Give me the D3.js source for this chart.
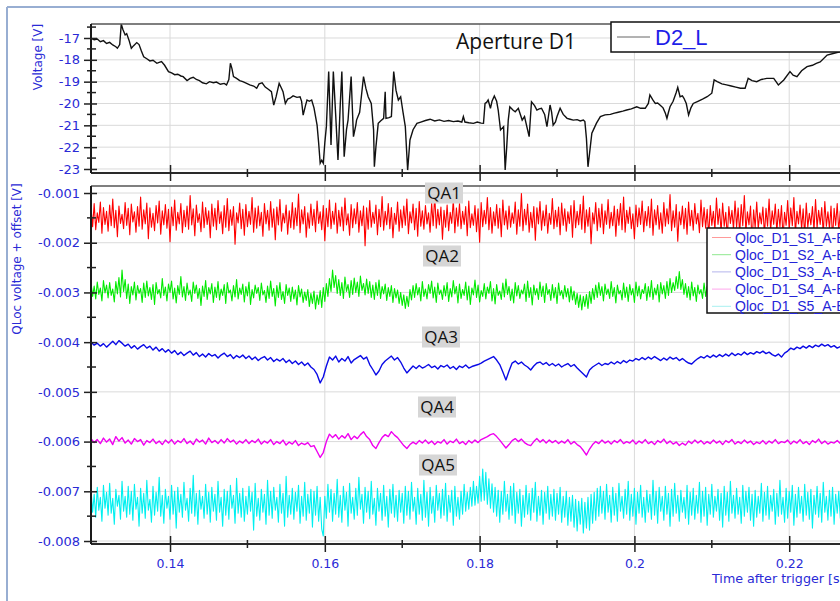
<!DOCTYPE html>
<html>
<head>
<meta charset="utf-8">
<script src="https://cdn.jsdelivr.net/npm/d3@7"></script>
<style>
html, body { margin: 0; padding: 0; background: #fff; overflow: hidden; }
svg { display: block; }
</style>
</head>
<body>
<svg id="chart"></svg>
<script>
// ---- data ----
// top panel: aperture voltage D2_L, [time s, voltage V]
const d2L = [[0.1297,-17.00],[0.1302,-17.08],[0.1306,-17.05],[0.1310,-17.17],[0.1314,-17.12],[0.1318,-17.25],[0.1322,-17.20],[0.1326,-17.32],[0.1330,-17.40],[0.1332,-17.47],
[0.1335,-17.30],[0.1337,-16.36],[0.1339,-16.60],[0.1342,-16.86],[0.1344,-16.80],[0.1347,-17.10],[0.1350,-17.47],[0.1353,-17.35],[0.1357,-17.21],[0.1360,-17.30],
[0.1363,-17.60],[0.1366,-17.86],[0.1370,-17.95],[0.1374,-18.05],[0.1378,-18.02],[0.1383,-18.16],[0.1386,-18.12],[0.1389,-18.08],[0.1393,-18.25],[0.1398,-18.54],
[0.1402,-18.60],[0.1406,-18.68],[0.1410,-18.66],[0.1414,-18.74],[0.1417,-18.77],[0.1422,-18.95],[0.1426,-18.85],[0.1430,-18.80],[0.1434,-18.90],[0.1438,-18.95],
[0.1442,-19.05],[0.1447,-19.10],[0.1451,-19.00],[0.1456,-19.05],[0.1460,-19.02],[0.1465,-19.12],[0.1470,-19.08],[0.1473,-19.15],[0.1476,-18.90],[0.1478,-18.16],
[0.1480,-18.40],[0.1482,-18.77],[0.1486,-18.85],[0.1490,-18.95],[0.1494,-19.00],[0.1499,-19.08],[0.1503,-19.15],[0.1508,-19.20],[0.1512,-19.30],[0.1515,-19.10],
[0.1519,-19.05],[0.1523,-19.25],[0.1527,-19.35],[0.1531,-19.46],[0.1534,-20.07],[0.1537,-19.70],[0.1541,-19.08],[0.1544,-19.30],[0.1546,-19.46],[0.1549,-20.00],
[0.1552,-19.80],[0.1555,-19.76],[0.1559,-19.65],[0.1564,-19.72],[0.1568,-19.69],[0.1570,-19.90],[0.1572,-20.53],[0.1575,-20.10],[0.1577,-19.84],[0.1580,-19.90],
[0.1583,-19.84],[0.1586,-20.20],[0.1590,-20.99],[0.1592,-21.80],[0.1594,-22.74],[0.1596,-22.60],[0.1598,-22.74],[0.1600,-21.80],[0.1602,-21.06],[0.1605,-18.54],
[0.1608,-21.90],[0.1611,-18.54],[0.1614,-20.50],[0.1617,-22.59],[0.1620,-20.00],[0.1622,-18.54],[0.1625,-22.44],[0.1628,-21.20],[0.1630,-20.76],[0.1634,-18.77],
[0.1637,-21.52],[0.1640,-21.00],[0.1641,-20.76],[0.1645,-20.40],[0.1650,-18.77],[0.1653,-19.30],[0.1656,-19.69],[0.1660,-20.00],[0.1663,-21.21],[0.1664,-22.90],
[0.1666,-22.00],[0.1669,-20.91],[0.1672,-20.80],[0.1676,-20.68],[0.1678,-19.46],[0.1679,-20.68],[0.1683,-20.65],[0.1686,-20.60],[0.1689,-18.54],[0.1692,-19.40],
[0.1695,-19.84],[0.1698,-19.69],[0.1701,-20.40],[0.1704,-21.06],[0.1707,-23.05],[0.1710,-21.67],[0.1714,-21.20],[0.1719,-20.91],[0.1724,-20.85],[0.1730,-20.78],
[0.1736,-20.72],[0.1742,-20.80],[0.1748,-20.75],[0.1754,-20.82],[0.1760,-20.78],[0.1766,-20.83],[0.1772,-20.80],[0.1777,-20.85],[0.1779,-20.60],[0.1781,-20.85],
[0.1786,-20.88],[0.1792,-20.91],[0.1797,-20.85],[0.1802,-20.90],[0.1805,-20.91],[0.1807,-20.00],[0.1809,-19.95],[0.1811,-19.84],[0.1814,-20.22],[0.1816,-19.90],
[0.1819,-19.66],[0.1822,-19.90],[0.1824,-20.30],[0.1827,-21.21],[0.1831,-21.06],[0.1833,-23.05],[0.1835,-22.00],[0.1837,-20.76],[0.1839,-20.15],[0.1843,-20.30],
[0.1846,-20.38],[0.1850,-20.22],[0.1855,-20.76],[0.1858,-20.60],[0.1861,-21.06],[0.1864,-21.52],[0.1867,-19.92],[0.1871,-20.10],[0.1874,-20.30],[0.1877,-20.25],
[0.1880,-20.22],[0.1884,-20.50],[0.1887,-21.06],[0.1891,-20.07],[0.1893,-20.40],[0.1895,-20.99],[0.1898,-20.85],[0.1900,-20.60],[0.1904,-20.22],[0.1908,-20.50],
[0.1913,-20.68],[0.1917,-20.72],[0.1921,-20.76],[0.1926,-20.74],[0.1930,-20.80],[0.1934,-20.76],[0.1936,-20.83],[0.1938,-21.60],[0.1940,-22.90],[0.1942,-22.30],
[0.1945,-21.36],[0.1947,-21.21],[0.1951,-20.90],[0.1956,-20.60],[0.1962,-20.52],[0.1969,-20.50],[0.1973,-20.45],[0.1979,-20.40],[0.1985,-20.35],[0.1990,-20.30],
[0.1996,-20.25],[0.2003,-20.15],[0.2008,-20.22],[0.2014,-20.22],[0.2018,-20.00],[0.2020,-19.61],[0.2024,-19.85],[0.2027,-20.00],[0.2030,-19.98],[0.2033,-20.07],
[0.2037,-20.20],[0.2040,-20.45],[0.2042,-20.68],[0.2044,-20.40],[0.2046,-20.15],[0.2050,-19.90],[0.2054,-19.50],[0.2056,-19.26],[0.2059,-19.69],[0.2062,-19.65],
[0.2064,-19.76],[0.2067,-20.00],[0.2070,-20.53],[0.2073,-20.20],[0.2076,-20.00],[0.2082,-19.90],[0.2088,-19.80],[0.2094,-19.69],[0.2100,-19.53],[0.2103,-18.92],
[0.2107,-19.00],[0.2113,-19.10],[0.2119,-19.15],[0.2125,-19.20],[0.2131,-19.25],[0.2137,-19.30],[0.2143,-19.30],[0.2147,-18.85],[0.2152,-18.95],[0.2158,-19.00],
[0.2164,-18.90],[0.2171,-18.85],[0.2180,-18.85],[0.2186,-19.15],[0.2193,-18.92],[0.2201,-18.54],[0.2205,-18.70],[0.2210,-18.77],[0.2216,-18.50],[0.2223,-18.31],
[0.2230,-18.25],[0.2235,-18.16],[0.2240,-18.10],[0.2249,-17.78],[0.2258,-17.70],[0.2266,-17.63],[0.2275,-17.55],[0.2285,-17.45]];

// bottom panel: QLoc voltages + offset, in mV, sampled every qaSteps[k] seconds from qaStart
const qaStart = 0.1298;
const qaSteps = [0.0002, 0.0002, 0.0004, 0.0004, 0.0002];

const qa1 = [-1.32,-1.68,-1.21,-1.74,-1.40,-1.59,-1.18,-1.81,-1.29,-1.63,
-1.37,-1.77,-1.24,-1.66,-1.12,-1.70,-1.35,-1.88,-1.26,-1.61,
-1.43,-1.72,-1.19,-1.65,-1.31,-1.84,-1.22,-1.58,-1.38,-1.79,
-1.27,-1.67,-1.08,-1.73,-1.34,-1.62,-1.20,-1.92,-1.30,-1.69,
-1.41,-1.76,-1.25,-1.60,-1.16,-1.83,-1.36,-1.64,-1.23,-1.71,
-1.33,-1.98,-1.28,-1.66,-1.14,-1.75,-1.39,-1.62,-1.21,-1.80,
-1.35,-1.68,-1.26,-1.73,-1.05,-1.64,-1.32,-1.86,-1.24,-1.59,
-1.42,-1.78,-1.18,-1.70,-1.29,-1.63,-1.36,-1.90,-1.22,-1.67,
-1.31,-1.74,-1.15,-1.61,-1.38,-1.82,-1.25,-1.69,-1.11,-1.76,
-1.34,-1.65,-1.27,-2.03,-1.40,-1.60,-1.20,-1.72,-1.33,-1.85,
-1.23,-1.68,-1.37,-1.63,-1.09,-1.79,-1.30,-1.71,-1.26,-1.66,
-1.39,-1.87,-1.21,-1.62,-1.35,-1.75,-1.17,-1.69,-1.32,-1.94,
-1.28,-1.64,-1.13,-1.77,-1.41,-1.60,-1.24,-1.83,-1.36,-1.70,
-1.19,-1.73,-1.30,-1.66,-1.02,-1.80,-1.34,-1.62,-1.27,-1.89,
-1.40,-1.71,-1.22,-1.65,-1.33,-1.78,-1.16,-1.61,-1.38,-1.74,
-1.25,-1.96,-1.31,-1.68,-1.14,-1.72,-1.37,-1.63,-1.20,-1.81,
-1.35,-1.67,-1.28,-1.76,-1.10,-1.64,-1.42,-1.85,-1.23,-1.70,
-1.32,-1.62,-1.19,-1.79,-1.36,-1.66,-1.26,-2.06,-1.30,-1.73,
-1.15,-1.69,-1.39,-1.61,-1.24,-1.84,-1.33,-1.68,-1.07,-1.75,
-1.37,-1.64,-1.21,-1.72,-1.29,-1.90,-1.41,-1.63,-1.18,-1.77,
-1.34,-1.70,-1.26,-1.65,-1.12,-1.82,-1.38,-1.60,-1.22,-1.74,
-1.31,-1.87,-1.17,-1.67,-1.36,-1.73,-1.25,-1.62,-1.40,-1.79,
-1.20,-1.66,-1.04,-1.71,-1.33,-1.64,-1.28,-1.93,-1.35,-1.69,
-1.24,-1.76,-1.39,-1.61,-1.13,-1.80,-1.30,-1.67,-1.21,-1.72,
-1.37,-1.63,-1.27,-1.86,-1.16,-1.70,-1.42,-1.65,-1.25,-1.78,
-1.32,-1.99,-1.19,-1.68,-1.35,-1.62,-1.09,-1.74,-1.29,-1.81,
-1.38,-1.66,-1.23,-1.71,-1.31,-1.88,-1.14,-1.64,-1.36,-1.73,
-1.26,-1.69,-1.40,-1.61,-1.18,-1.83,-1.34,-1.67,-1.01,-1.76,
-1.33,-1.64,-1.22,-1.79,-1.39,-1.70,-1.27,-1.95,-1.30,-1.62,
-1.17,-1.75,-1.36,-1.66,-1.24,-1.81,-1.41,-1.63,-1.11,-1.72,
-1.35,-1.68,-1.28,-1.84,-1.20,-1.65,-1.32,-1.77,-1.38,-1.61,
-1.25,-1.89,-1.15,-1.70,-1.37,-1.64,-1.23,-1.73,-1.06,-1.80,
-1.34,-1.67,-1.29,-2.02,-1.40,-1.62,-1.19,-1.76,-1.31,-1.69,
-1.22,-1.82,-1.36,-1.63,-1.13,-1.71,-1.39,-1.66,-1.26,-1.87,
-1.33,-1.65,-1.21,-1.74,-1.08,-1.79,-1.35,-1.61,-1.28,-1.72,
-1.42,-1.92,-1.24,-1.68,-1.30,-1.63,-1.16,-1.78,-1.37,-1.66,
-1.27,-1.70,-1.12,-1.85,-1.34,-1.64,-1.25,-1.73,-1.40,-1.81,
-1.19,-1.67,-1.32,-1.62,-1.03,-1.76,-1.36,-1.69,-1.23,-1.97,
-1.38,-1.64,-1.26,-1.72,-1.31,-1.83,-1.18,-1.66,-1.35,-1.75,
-1.21,-1.62,-1.41,-1.80,-1.14,-1.68,-1.29,-1.71,-1.33,-1.88,
-1.25,-1.65,-1.37,-1.74,-1.10,-1.63,-1.32,-1.79,-1.20,-1.67,
-1.39,-1.90,-1.27,-1.61,-1.35,-1.73,-1.16,-1.69,-1.30,-1.82,
-1.23,-1.66,-1.05,-1.77,-1.38,-1.64,-1.26,-2.04,-1.34,-1.70,
-1.18,-1.72,-1.40,-1.62,-1.28,-1.85,-1.31,-1.67,-1.12,-1.75,
-1.36,-1.63,-1.22,-1.79,-1.33,-1.68,-1.25,-1.91,-1.39,-1.65,
-1.15,-1.74,-1.30,-1.66,-1.09,-1.81,-1.37,-1.62,-1.24,-1.73,
-1.32,-1.86,-1.20,-1.69,-1.41,-1.64,-1.27,-1.76,-1.13,-1.70,
-1.35,-1.63,-1.29,-1.83,-1.17,-1.67,-1.38,-1.72,-1.26,-1.94,
-1.31,-1.65,-1.21,-1.78,-1.36,-1.61,-1.07,-1.74,-1.33,-1.69,
-1.24];

const qa2 = [-2.82,-3.08,-2.87,-3.13,-2.79,-3.04,-2.91,-3.17,-2.76,-3.01,
-2.85,-3.11,-2.80,-3.06,-2.93,-3.19,-2.78,-3.03,-2.70,-3.09,
-2.55,-2.98,-2.74,-3.12,-2.83,-3.22,-2.88,-3.05,-2.79,-3.15,
-2.86,-3.02,-2.92,-3.20,-2.81,-3.10,-2.77,-3.07,-2.90,-3.14,
-2.84,-3.24,-2.80,-3.03,-2.94,-3.11,-2.72,-3.06,-2.89,-3.17,
-2.83,-3.00,-2.77,-3.13,-2.91,-3.21,-2.86,-3.04,-2.68,-3.09,
-2.88,-3.16,-2.81,-3.05,-2.95,-3.18,-2.79,-3.02,-2.85,-3.12,
-2.92,-3.26,-2.87,-3.08,-2.76,-3.14,-2.90,-3.03,-2.82,-3.20,
-2.89,-3.10,-2.78,-3.15,-2.93,-3.06,-2.84,-3.22,-2.80,-3.01,
-2.95,-3.17,-2.86,-3.09,-2.74,-3.13,-2.91,-3.04,-2.83,-3.19,
-2.88,-3.07,-2.79,-3.24,-2.94,-3.11,-2.85,-3.02,-2.90,-3.16,
-2.81,-3.05,-2.96,-3.20,-2.87,-3.12,-2.77,-3.08,-2.92,-3.27,
-2.86,-3.10,-2.80,-3.14,-2.98,-3.22,-2.84,-3.06,-2.91,-3.18,
-2.89,-3.13,-2.95,-3.25,-2.86,-3.09,-2.93,-3.20,-2.99,-3.16,
-2.94,-3.28,-3.02,-3.22,-2.97,-3.33,-3.05,-3.24,-2.96,-3.30,
-2.90,-3.18,-2.82,-3.08,-2.72,-2.98,-2.55,-2.90,-2.66,-3.02,
-2.74,-3.06,-2.80,-3.12,-2.69,-2.98,-2.84,-3.10,-2.76,-3.04,
-2.71,-3.00,-2.79,-3.08,-2.67,-2.96,-2.82,-3.05,-2.73,-3.02,
-2.78,-3.10,-2.85,-3.14,-2.80,-3.06,-2.75,-3.12,-2.88,-3.03,
-2.83,-3.16,-2.90,-3.08,-2.86,-3.20,-2.92,-3.11,-2.95,-3.22,
-3.00,-3.26,-3.05,-3.32,-3.08,-3.28,-2.94,-3.15,-2.86,-3.10,
-2.82,-3.05,-2.90,-3.17,-2.78,-3.08,-2.93,-3.13,-2.84,-3.02,
-2.77,-3.11,-2.89,-3.20,-2.81,-3.04,-2.95,-3.14,-2.86,-3.07,
-2.80,-3.18,-2.92,-3.09,-2.76,-3.03,-2.88,-3.21,-2.83,-3.12,
-2.94,-3.06,-2.79,-3.15,-2.87,-3.24,-2.91,-3.05,-2.75,-3.10,
-2.85,-3.19,-2.96,-3.08,-2.82,-3.13,-2.89,-3.02,-2.78,-3.17,
-2.92,-3.23,-2.84,-3.06,-2.97,-3.14,-2.81,-3.09,-2.73,-3.04,
-2.88,-3.16,-2.93,-3.21,-2.80,-3.07,-2.86,-3.12,-2.95,-3.03,
-2.83,-3.18,-2.77,-3.10,-2.90,-3.25,-2.85,-3.05,-2.92,-3.14,
-2.79,-3.08,-2.87,-3.20,-2.82,-3.04,-2.94,-3.16,-2.84,-3.11,
-2.90,-3.22,-2.81,-3.06,-2.96,-3.13,-2.86,-3.09,-2.92,-3.19,
-2.88,-3.15,-2.97,-3.24,-3.02,-3.30,-3.05,-3.35,-3.08,-3.28,
-3.04,-3.32,-2.98,-3.22,-2.92,-3.14,-2.85,-3.10,-2.80,-3.06,
-2.88,-3.17,-2.83,-3.04,-2.93,-3.12,-2.78,-3.08,-2.90,-3.21,
-2.85,-3.03,-2.96,-3.15,-2.81,-3.10,-2.89,-3.18,-2.84,-3.05,
-2.92,-3.20,-2.79,-3.07,-2.87,-3.13,-2.94,-3.02,-2.82,-3.16,
-2.88,-3.09,-2.76,-3.14,-2.91,-3.05,-2.84,-3.19,-2.80,-3.03,
-2.86,-3.12,-2.78,-3.06,-2.72,-3.00,-2.80,-2.96,-2.68,-2.92,
-2.58,-2.94,-2.74,-3.04,-2.82,-3.10,-2.88,-3.15,-2.79,-3.07,
-2.90,-3.18,-2.85,-3.03,-2.94,-3.12,-2.81,-3.08,-2.87,-3.21,
-2.83,-3.05,-2.92,-3.14,-2.78,-3.10,-2.89,-3.17,-2.84,-3.02,
-2.95,-3.20,-2.80,-3.07,-2.88,-3.13,-2.76,-3.04,-2.91,-3.16,
-2.86,-3.09,-2.93,-3.22,-2.82,-3.06,-2.87,-3.11,-2.79,-3.18,
-2.90,-3.03,-2.84,-3.15,-2.96,-3.08,-2.81,-3.12,-2.88,-3.20,
-2.83,-3.06,-2.91,-3.17,-2.78,-3.04,-2.94,-3.13,-2.85,-3.09,
-2.89,-3.21,-2.80,-3.05,-2.92,-3.14,-2.86,-3.02,-2.77,-3.11,
-2.93,-3.16,-2.84,-3.08,-2.90,-3.23,-2.82,-3.06,-2.95,-3.12,
-2.87,-3.04,-2.79,-3.18,-2.91,-3.09,-2.85,-3.15,-2.81,-3.03,
-2.94,-3.13,-2.86,-3.07,-2.92,-3.20,-2.83,-3.10,-2.88,-3.05,
-2.90];

const qa3 = [-4.00,-4.06,-4.02,-4.08,-4.03,-4.10,-4.04,-3.98,-4.05,-3.97,
-4.02,-4.08,-4.04,-4.12,-4.07,-4.14,-4.09,-4.05,-4.12,-4.08,
-4.16,-4.10,-4.18,-4.13,-4.20,
-4.15,-4.22,-4.17,-4.25,-4.20,-4.27,-4.22,-4.18,-4.26,-4.21,
-4.29,-4.24,-4.30,-4.23,-4.28,-4.25,-4.32,-4.26,-4.22,-4.29,
-4.25,-4.33,-4.27,-4.31,-4.26,
-4.33,-4.28,-4.35,-4.30,-4.37,-4.32,-4.29,-4.36,-4.31,-4.39,
-4.34,-4.38,-4.33,-4.41,-4.36,-4.43,-4.38,-4.45,-4.40,-4.47,
-4.42,-4.50,-4.55,-4.65,-4.82,
-4.70,-4.48,-4.30,-4.36,-4.28,-4.40,-4.33,-4.38,-4.29,-4.42,
-4.35,-4.31,-4.27,-4.34,-4.30,-4.45,-4.55,-4.66,-4.58,-4.45,
-4.38,-4.33,-4.28,-4.36,-4.31,
-4.40,-4.52,-4.62,-4.55,-4.48,-4.53,-4.47,-4.52,-4.49,-4.45,
-4.51,-4.48,-4.54,-4.47,-4.50,-4.46,-4.53,-4.49,-4.55,-4.48,
-4.51,-4.46,-4.52,-4.49,-4.47,
-4.45,-4.42,-4.38,-4.35,-4.32,-4.29,-4.36,-4.45,-4.60,-4.76,
-4.58,-4.42,-4.38,-4.44,-4.40,-4.46,-4.50,-4.56,-4.48,-4.42,
-4.40,-4.45,-4.41,-4.47,-4.43,
-4.48,-4.44,-4.50,-4.46,-4.43,-4.49,-4.45,-4.52,-4.58,-4.64,
-4.70,-4.56,-4.50,-4.46,-4.42,-4.47,-4.43,-4.45,-4.40,-4.44,
-4.39,-4.43,-4.37,-4.41,-4.36,
-4.38,-4.33,-4.36,-4.31,-4.35,-4.30,-4.34,-4.29,-4.33,-4.37,
-4.32,-4.36,-4.30,-4.34,-4.31,-4.37,-4.33,-4.38,-4.42,-4.44,
-4.38,-4.33,-4.29,-4.32,-4.27,
-4.31,-4.26,-4.30,-4.25,-4.29,-4.24,-4.28,-4.22,-4.27,-4.23,
-4.26,-4.20,-4.25,-4.21,-4.24,-4.19,-4.22,-4.18,-4.23,-4.20,
-4.25,-4.28,-4.24,-4.30,-4.22,
-4.18,-4.12,-4.15,-4.10,-4.13,-4.08,-4.12,-4.07,-4.11,-4.06,
-4.09,-4.04,-4.08,-4.05,-4.10,-4.07,-4.12,-4.09,-4.14,-4.10,
-4.12];

const qa4 = [-5.94,-6.02,-5.96,-6.04,-5.93,-6.01,-5.95,-6.06,-5.90,-5.99,
-5.92,-6.03,-5.97,-6.05,-5.94,-6.00,-5.96,-6.07,-5.98,-6.02,
-5.95,-6.04,-5.99,-6.06,-5.97,
-6.03,-5.96,-6.05,-5.98,-6.02,-5.94,-6.04,-5.99,-6.06,-5.95,
-6.01,-5.97,-6.05,-5.93,-6.02,-5.98,-6.04,-5.96,-6.03,-5.94,
-6.01,-5.97,-6.05,-5.99,-6.03,
-5.96,-6.04,-5.98,-6.02,-5.95,-6.05,-5.99,-6.03,-5.96,-6.06,
-6.00,-6.04,-5.97,-6.07,-6.01,-6.05,-5.98,-6.08,-6.03,-6.06,
-6.02,-6.10,-6.08,-6.20,-6.32,
-6.22,-6.00,-5.85,-5.92,-5.86,-5.95,-5.88,-5.93,-5.84,-5.96,
-5.89,-5.94,-5.86,-5.80,-5.90,-5.96,-6.08,-6.14,-6.02,-5.92,
-5.86,-5.90,-5.80,-5.87,-5.92,
-6.00,-6.08,-6.14,-6.06,-6.01,-6.05,-5.98,-6.03,-5.97,-6.04,
-5.99,-6.06,-6.00,-6.03,-5.96,-6.05,-5.99,-6.02,-5.95,-6.04,
-6.00,-6.06,-5.98,-6.03,-5.97,
-6.02,-5.96,-5.93,-5.90,-5.86,-5.84,-5.90,-5.97,-6.05,-6.13,
-6.06,-5.98,-5.94,-6.00,-5.95,-6.02,-6.06,-6.08,-6.00,-5.94,
-6.01,-5.96,-6.03,-5.97,-6.02,
-5.98,-6.04,-5.99,-6.03,-5.96,-6.05,-6.00,-6.06,-6.10,-6.18,
-6.27,-6.15,-6.06,-6.00,-6.04,-5.97,-6.03,-5.99,-6.05,-5.98,
-6.02,-5.96,-6.04,-6.00,-6.03,
-5.97,-6.05,-5.99,-6.03,-5.96,-6.04,-6.00,-6.06,-5.98,-6.02,
-5.95,-6.04,-5.99,-6.05,-6.01,-6.08,-6.03,-6.07,-5.99,-6.04,
-5.97,-6.03,-5.98,-6.05,-6.00,
-6.04,-5.97,-6.03,-5.99,-6.06,-5.98,-6.02,-5.96,-6.05,-6.00,
-6.04,-5.97,-6.03,-5.99,-6.06,-6.01,-6.04,-5.98,-6.05,-5.99,
-6.03,-5.96,-6.04,-6.00,-6.02,
-5.97,-6.05,-5.99,-6.03,-5.96,-6.04,-6.00,-6.06,-5.98,-6.02,
-5.95,-6.04,-5.99,-6.05,-6.01,-6.03,-5.98,-6.04,-6.00,-6.02,
-5.99];

const qa5 = [-6.98,-7.42,-7.06,-7.52,-6.92,-7.38,-7.12,-7.60,-6.88,-7.34,
-7.02,-7.48,-6.84,-7.44,-7.14,-7.66,-6.96,-7.30,-7.08,-7.56,
-6.80,-7.40,-7.10,-7.52,-6.90,-7.46,-7.00,-7.58,-6.86,-7.36,
-7.12,-7.70,-6.94,-7.44,-7.04,-7.54,-6.78,-7.38,-7.16,-7.62,
-6.90,-7.48,-7.02,-7.40,-6.72,-7.50,-7.08,-7.64,-6.96,-7.34,
-7.10,-7.56,-6.88,-7.46,-7.00,-7.74,-6.92,-7.42,-7.06,-7.52,
-6.82,-7.38,-7.14,-7.60,-6.94,-7.44,-6.68,-7.50,-7.04,-7.66,
-6.98,-7.36,-7.10,-7.54,-6.86,-7.46,-7.02,-7.62,-6.92,-7.40,
-7.06,-7.58,-6.80,-7.42,-7.12,-7.70,-6.96,-7.48,-7.00,-7.56,
-6.88,-7.34,-7.08,-7.64,-6.74,-7.44,-7.04,-7.52,-6.94,-7.60,
-7.10,-7.46,-6.90,-7.40,-7.02,-7.78,-6.84,-7.50,-7.14,-7.58,
-6.96,-7.42,-7.06,-7.66,-6.78,-7.48,-7.00,-7.54,-6.92,-7.38,
-7.12,-7.62,-6.86,-7.44,-7.04,-7.70,-6.70,-7.52,-7.08,-7.46,
-6.94,-7.56,-7.02,-7.40,-6.88,-7.64,-7.10,-7.50,-6.82,-7.58,
-7.06,-7.44,-6.96,-7.72,-7.00,-7.48,-6.90,-7.60,-7.12,-7.76,
-7.90,-7.10,-7.54,-6.86,-7.42,-6.96,-7.60,-7.04,-7.46,-6.76,
-7.52,-7.08,-7.62,-6.90,-7.38,-7.02,-7.70,-6.84,-7.44,-7.12,
-7.56,-6.94,-7.48,-6.72,-7.36,-7.06,-7.64,-6.92,-7.42,-7.00,
-7.55,-6.80,-7.46,-7.14,-7.68,-6.94,-7.40,-7.04,-7.58,-6.88,
-7.50,-7.10,-7.72,-6.96,-7.44,-6.86,-7.52,-7.08,-7.60,-6.98,
-7.42,-7.04,-7.64,-6.90,-7.48,-7.00,-7.56,-6.82,-7.40,-7.12,
-7.66,-6.94,-7.46,-7.06,-7.58,-6.78,-7.52,-7.02,-7.70,-6.92,
-7.44,-7.10,-7.62,-6.88,-7.38,-7.04,-7.54,-6.96,-7.48,-6.84,
-7.60,-7.08,-7.42,-6.98,-7.68,-6.90,-7.50,-7.12,-7.56,-7.00,
-7.46,-6.86,-7.40,-7.02,-7.36,-6.92,-7.30,-6.80,-7.28,-6.90,
-7.24,-6.70,-7.20,-6.55,-7.18,-6.62,-7.26,-6.75,-7.34,-6.85,
-7.42,-6.92,-7.50,-6.98,-7.62,-7.00,-7.46,-6.80,-7.40,-7.06,
-7.56,-6.90,-7.48,-6.84,-7.64,-7.02,-7.44,-6.96,-7.70,-7.08,
-7.52,-6.88,-7.46,-7.04,-7.58,-6.94,-7.42,-6.82,-7.60,-7.10,
-7.48,-6.98,-7.66,-7.02,-7.44,-6.90,-7.56,-7.06,-7.50,-6.96,
-7.58,-7.04,-7.46,-6.92,-7.62,-7.10,-7.52,-7.00,-7.68,-7.12,
-7.60,-7.08,-7.72,-7.16,-7.80,-7.20,-7.66,-7.14,-7.84,-7.22,
-7.74,-7.12,-7.78,-7.06,-7.64,-7.02,-7.58,-6.94,-7.50,-6.90,
-7.44,-7.00,-7.56,-6.86,-7.42,-7.08,-7.62,-6.92,-7.48,-7.04,
-7.60,-6.84,-7.40,-7.10,-7.54,-6.96,-7.46,-6.80,-7.58,-7.06,
-7.50,-6.94,-7.66,-7.02,-7.44,-6.88,-7.52,-7.12,-7.62,-6.98,
-7.42,-7.06,-7.56,-6.78,-7.48,-7.00,-7.64,-6.92,-7.40,-7.10,
-7.58,-6.90,-7.46,-7.04,-7.70,-6.96,-7.50,-6.84,-7.44,-7.08,
-7.60,-6.98,-7.42,-7.12,-7.54,-6.88,-7.66,-7.02,-7.48,-6.94,
-7.56,-7.08,-7.44,-6.82,-7.62,-7.00,-7.50,-6.92,-7.68,-7.06,
-7.46,-6.86,-7.52,-7.10,-7.40,-6.96,-7.58,-7.04,-7.72,-6.90,
-7.48,-7.02,-7.60,-6.80,-7.44,-7.08,-7.54,-6.94,-7.46,-7.12,
-7.64,-6.88,-7.50,-7.00,-7.42,-6.92,-7.58,-7.06,-7.70,-6.98,
-7.52,-7.10,-7.44,-6.84,-7.60,-7.02,-7.48,-6.90,-7.56,-7.08,
-7.40,-6.96,-7.66,-7.04,-7.50,-6.78,-7.46,-7.12,-7.62,-6.94,
-7.54,-7.00,-7.42,-6.88,-7.68,-7.06,-7.52,-6.92,-7.44,-7.10,
-7.60,-6.86,-7.48,-7.02,-7.56,-6.96,-7.74,-7.08,-7.46,-6.90,
-7.52,-7.04,-7.62,-6.82,-7.42,-7.10,-7.58,-6.98,-7.50,-6.92,
-7.66,-7.06,-7.44,-7.00,-7.54,-6.88,-7.48,-7.12,-7.60,-6.96,
-7.50];

const qaNames = ["QA1", "QA2", "QA3", "QA4", "QA5"];
const legendNames = ["Qloc_D1_S1_A-B", "Qloc_D1_S2_A-B", "Qloc_D1_S3_A-B", "Qloc_D1_S4_A-B", "Qloc_D1_S5_A-B"];

const xMajor = [0.14, 0.16, 0.18, 0.2, 0.22];
const xMinor = [0.15, 0.17, 0.19, 0.21];
const topMajor = [-17, -18, -19, -20, -21, -22, -23];
const topMinor = [-16.5, -17.5, -18.5, -19.5, -20.5, -21.5, -22.5];
const botMajor = [-0.001, -0.002, -0.003, -0.004, -0.005, -0.006, -0.007, -0.008];
const botMinor = [-0.0015, -0.0025, -0.0035, -0.0045, -0.0055, -0.0065, -0.0075];

// ---- layout / style ----
const W = 840, H = 601;
const X0 = 91, X1 = 860;
const TOP = {y0: 24, y1: 173};
const BOT = {y0: 186, y1: 544};
const tickBlue = "#2a2ad6";
const gridCol = "#dadada";
const axisFont = "'DejaVu Sans', Verdana, sans-serif";
const legFont = "'Liberation Sans', Arial, sans-serif";
const qaColors = ["#ff0000", "#00ea00", "#0a0ae6", "#f000f0", "#00f0f0"];
const qaWidths = [1.1, 1.1, 1.4, 1.4, 1.1];
const legendLineColors = ["#ff9a9a", "#8fe88f", "#b4b4ec", "#ffa6ec", "#a8f0f0"];
const qaLabelPos = [[444, 193], [442, 256], [441, 337], [437, 407], [438, 465]];

const svg = d3.select("#chart").attr("width", W).attr("height", H);

const x = d3.scaleLinear().domain([0.12979, 0.22837]).range([91, 854]);
const yTop = d3.scaleLinear().domain([-16.359, -23.184]).range([TOP.y0, TOP.y1]);
const yBot = d3.scaleLinear().domain([-0.000859, -0.00806]).range([BOT.y0, BOT.y1]);

// outer slide frame
svg.append("line").attr("x1", 7).attr("x2", 7).attr("y1", 7).attr("y2", H)
    .attr("stroke", "#98aed2").attr("stroke-width", 2);
svg.append("line").attr("x1", 7).attr("x2", W).attr("y1", 7).attr("y2", 7)
    .attr("stroke", "#98aed2").attr("stroke-width", 2);

const defs = svg.append("defs");
defs.append("clipPath").attr("id", "clipTop").append("rect")
    .attr("x", X0).attr("y", TOP.y0).attr("width", X1 - X0).attr("height", TOP.y1 - TOP.y0);
defs.append("clipPath").attr("id", "clipBot").append("rect")
    .attr("x", X0).attr("y", BOT.y0).attr("width", X1 - X0).attr("height", BOT.y1 - BOT.y0);

function grid(g, yScale, yVals, box) {
    g.selectAll("line.gx").data(xMajor).enter().append("line")
        .attr("x1", d => x(d)).attr("x2", d => x(d))
        .attr("y1", box.y0).attr("y2", box.y1)
        .attr("stroke", gridCol).attr("stroke-width", 1);
    g.selectAll("line.gy").data(yVals).enter().append("line")
        .attr("x1", X0).attr("x2", X1)
        .attr("y1", d => yScale(d)).attr("y2", d => yScale(d))
        .attr("stroke", gridCol).attr("stroke-width", 1);
}

// ticks that cross the axis line
function leftAxis(g, yScale, major, minor) {
    const a = g.append("g").attr("transform", `translate(${X0},0)`)
        .call(d3.axisLeft(yScale).tickValues(major).tickSize(7).tickSizeOuter(0).tickPadding(4)
            .tickFormat(d => String(d)));
    a.selectAll(".tick line").attr("x1", 6).attr("stroke", "#222").attr("stroke-width", 1.5);
    a.selectAll(".tick text").attr("fill", tickBlue).style("font-family", axisFont).style("font-size", "13px");
    a.select(".domain").remove();
    g.selectAll("line.minor").data(minor).enter().append("line")
        .attr("x1", X0 - 4).attr("x2", X0 + 5)
        .attr("y1", d => yScale(d)).attr("y2", d => yScale(d))
        .attr("stroke", "#222").attr("stroke-width", 1.5);
}

function bottomAxis(g, yPos, labels) {
    const a = g.append("g").attr("transform", `translate(0,${yPos})`)
        .call(d3.axisBottom(x).tickValues(xMajor).tickSize(8).tickSizeOuter(0).tickPadding(7)
            .tickFormat(d => labels ? String(d) : ""));
    a.selectAll(".tick line").attr("y1", -8).attr("stroke", "#222").attr("stroke-width", 1.5);
    a.selectAll(".tick text").attr("fill", tickBlue).style("font-family", axisFont).style("font-size", "12.5px");
    a.select(".domain").remove();
    g.selectAll("line.minorx").data(xMinor).enter().append("line")
        .attr("x1", d => x(d)).attr("x2", d => x(d))
        .attr("y1", yPos - 4).attr("y2", yPos + 4)
        .attr("stroke", "#222").attr("stroke-width", 1.5);
}

function frame(g, box) {
    g.append("line").attr("x1", X0).attr("x2", X1).attr("y1", box.y0).attr("y2", box.y0)
        .attr("stroke", "#555").attr("stroke-width", 1.5);
    g.append("line").attr("x1", X0).attr("x2", X1).attr("y1", box.y1).attr("y2", box.y1)
        .attr("stroke", "#2a2a2a").attr("stroke-width", 2);
    g.append("line").attr("x1", X0).attr("x2", X0).attr("y1", box.y0).attr("y2", box.y1)
        .attr("stroke", "#1a1a1a").attr("stroke-width", 2);
}

// ---- top panel ----
const gTop = svg.append("g");
grid(gTop, yTop, topMajor, TOP);
gTop.append("path").datum(d2L)
    .attr("clip-path", "url(#clipTop)")
    .attr("fill", "none").attr("stroke", "#111").attr("stroke-width", 1.4)
    .attr("d", d3.line().x(d => x(d[0])).y(d => yTop(d[1])));
frame(gTop, TOP);
leftAxis(gTop, yTop, topMajor, topMinor);
bottomAxis(gTop, TOP.y1, false);

gTop.append("text").attr("x", 456).attr("y", 49)
    .style("font-family", "'Open Sans', sans-serif").style("font-size", "21px")
    .attr("fill", "#111").text("Aperture D1");

gTop.append("text")
    .attr("transform", "translate(42,57) rotate(-90)")
    .attr("text-anchor", "middle")
    .style("font-family", axisFont).style("font-size", "12px").attr("fill", tickBlue)
    .text("Voltage [V]");

// legend of top panel
const lgTop = gTop.append("g");
lgTop.append("rect").attr("x", 611).attr("y", 22).attr("width", 260).attr("height", 30)
    .attr("fill", "#fff").attr("stroke", "#111").attr("stroke-width", 1.5);
lgTop.append("line").attr("x1", 617).attr("x2", 650).attr("y1", 37).attr("y2", 37)
    .attr("stroke", "#666").attr("stroke-width", 1);
lgTop.append("text").attr("x", 655).attr("y", 45)
    .style("font-family", legFont).style("font-size", "22px").attr("fill", "#1e1ee8")
    .text("D2_L");

// ---- bottom panel ----
const gBot = svg.append("g");
grid(gBot, yBot, botMajor, BOT);

const qaSeries = [qa1, qa2, qa3, qa4, qa5];
gBot.append("g").attr("clip-path", "url(#clipBot)")
    .selectAll("path").data(qaSeries).enter().append("path")
    .attr("fill", "none")
    .attr("stroke", (d, k) => qaColors[k])
    .attr("stroke-width", (d, k) => qaWidths[k])
    .attr("stroke-linejoin", "round")
    .attr("d", (vals, k) => d3.line()
        .x((d, i) => x(qaStart + i * qaSteps[k]))
        .y(d => yBot(d / 1000))(vals));

frame(gBot, BOT);
leftAxis(gBot, yBot, botMajor, botMinor);
bottomAxis(gBot, BOT.y1, true);

gBot.append("text")
    .attr("transform", "translate(21,259) rotate(-90)")
    .attr("text-anchor", "middle")
    .style("font-family", axisFont).style("font-size", "12px").attr("fill", tickBlue)
    .text("QLoc voltage + offset [V]");

gBot.append("text").attr("x", 712).attr("y", 583)
    .style("font-family", axisFont).style("font-size", "12.7px").attr("fill", tickBlue)
    .text("Time after trigger [s]");

// QA labels on grey boxes
const qaLab = gBot.selectAll("g.qa").data(qaNames).enter().append("g")
    .attr("transform", (d, i) => `translate(${qaLabelPos[i][0]},${qaLabelPos[i][1]})`);
qaLab.append("rect").attr("x", -19).attr("y", -10.5).attr("width", 38).attr("height", 21)
    .attr("fill", "#d6d6d6");
qaLab.append("text").attr("text-anchor", "middle").attr("y", 6)
    .style("font-family", "'Open Sans', sans-serif").style("font-size", "17px")
    .attr("fill", "#111").text(d => d);

// legend of bottom panel
const lgBot = gBot.append("g");
lgBot.append("rect").attr("x", 707).attr("y", 228).attr("width", 200).attr("height", 85)
    .attr("fill", "#fff").attr("stroke", "#111").attr("stroke-width", 1.5);
const rows = lgBot.selectAll("g.row").data(legendNames).enter().append("g")
    .attr("transform", (d, i) => `translate(0,${237.5 + i * 17.2})`);
rows.append("line").attr("x1", 712).attr("x2", 731).attr("y1", 0).attr("y2", 0)
    .attr("stroke", (d, i) => legendLineColors[i]).attr("stroke-width", 1);
rows.append("text").attr("x", 735).attr("y", 5)
    .style("font-family", legFont).style("font-size", "14px").attr("fill", "#2424d8")
    .text(d => d);
</script>
</body>
</html>
